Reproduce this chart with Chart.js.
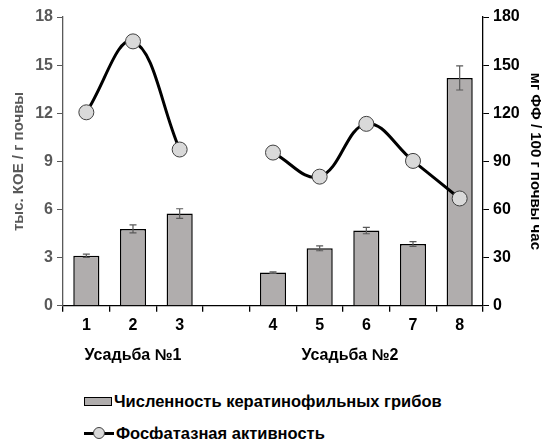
<!DOCTYPE html>
<html>
<head>
<meta charset="utf-8">
<script src="https://cdn.jsdelivr.net/npm/chart.js@4/dist/chart.umd.min.js"></script>
<style>
  html, body { margin: 0; padding: 0; background: #fff; }
  body { width: 553px; height: 439px; position: relative; overflow: hidden;
         font-family: "Liberation Sans", Arial, sans-serif; }
  #wrap { position: absolute; left: 0; top: 0; width: 553px; height: 375px; }
  .legend { position: absolute; left: 84px; font-weight: bold; font-size: 16.5px; color: #000; }
  .legend div { height: 32px; line-height: 32px; display: flex; align-items: center; }
  .box { display: inline-block; width: 26px; height: 7px; background: #b0adad;
         border: 1.5px solid #000; margin-right: 2px; }
  .ln { display: inline-block; width: 30px; height: 14px; position: relative; margin-right: 2px; }
  .ln:before { content: ""; position: absolute; left: 0; right: 0; top: 6px; height: 3px; background: #000; }
  .ln:after { content: ""; position: absolute; left: 9px; top: 1px; width: 10px; height: 10px;
              border-radius: 50%; background: #d9d9d9; border: 1px solid #404040; }
</style>
</head>
<body>
<div id="wrap"><canvas id="chart"></canvas></div>
<div class="legend" style="top:385px">
  <div><span class="box"></span>Численность кератинофильных грибов</div>
  <div><span class="ln"></span>Фосфатазная активность</div>
</div>
<script>
// categories (empty slot separates the two estates)
var categories = ['1', '2', '3', '', '4', '5', '6', '7', '8'];
// thousand CFU / g soil
var fungi = [3.12, 4.79, 5.75, null, 2.07, 3.58, 4.69, 3.85, 14.2];
var fungiErr = [0.1, 0.25, 0.3, null, 0.05, 0.15, 0.2, 0.15, 0.75];
// mg PP / 100 g soil per hour
var phosphatase = [120.6, 164.8, 97.4, null, 95.5, 80.5, 113.4, 90.3, 66.9];
var groupLabels = ['Усадьба №1', 'Усадьба №2'];
var groupCenters = [1, 5.65];

var errorBars = {
    id: 'errorBars',
    afterDatasetsDraw: function (chart) {
        var ctx = chart.ctx;
        var meta = chart.getDatasetMeta(1);
        var y = chart.scales.y;
        ctx.save();
        ctx.strokeStyle = '#595959';
        ctx.lineWidth = 1.2;
        meta.data.forEach(function (bar, i) {
            if (fungi[i] == null) return;
            var top = y.getPixelForValue(fungi[i] + fungiErr[i]);
            var bot = y.getPixelForValue(fungi[i] - fungiErr[i]);
            ctx.beginPath();
            ctx.moveTo(bar.x, top); ctx.lineTo(bar.x, bot);
            ctx.moveTo(bar.x - 3.5, top); ctx.lineTo(bar.x + 3.5, top);
            ctx.moveTo(bar.x - 3.5, bot); ctx.lineTo(bar.x + 3.5, bot);
            ctx.stroke();
        });
        ctx.restore();
    }
};

var groupText = {
    id: 'groupText',
    afterDraw: function (chart) {
        var ctx = chart.ctx;
        var x = chart.scales.x;
        ctx.save();
        ctx.font = 'bold 16px "Liberation Sans", Arial, sans-serif';
        ctx.fillStyle = '#000';
        ctx.textAlign = 'center';
        ctx.textBaseline = 'middle';
        groupLabels.forEach(function (t, i) {
            var a = Math.floor(groupCenters[i]), f = groupCenters[i] - a;
            var px = x.getPixelForValue(a) * (1 - f) + (f ? x.getPixelForValue(a + 1) * f : 0);
            ctx.fillText(t, px, x.bottom + 17);
        });
        ctx.restore();
    }
};

var tickFont = { family: '"Liberation Sans", Arial, sans-serif', size: 16, weight: 'bold' };
var titleFont = { family: '"Liberation Sans", Arial, sans-serif', size: 15, weight: 'bold' };

new Chart(document.getElementById('chart'), {
    type: 'bar',
    data: {
        labels: categories,
        datasets: [{
            type: 'line',
            label: 'Фосфатазная активность',
            data: phosphatase,
            yAxisID: 'y2',
            borderColor: '#000',
            borderWidth: 3,
            tension: 0.4,
            spanGaps: false,
            pointRadius: 7.5,
            pointBackgroundColor: '#d9d9d9',
            pointBorderColor: '#404040',
            pointBorderWidth: 1,
            order: 0
        }, {
            label: 'Численность кератинофильных грибов',
            data: fungi,
            yAxisID: 'y',
            backgroundColor: '#b0adad',
            borderColor: '#000',
            borderWidth: 1.5,
            categoryPercentage: 1,
            barPercentage: 0.56,
            order: 1
        }]
    },
    options: {
        responsive: true,
        maintainAspectRatio: false,
        animation: false,
        layout: { padding: { top: 17, bottom: 36, left: 10, right: 9 } },
        plugins: { legend: { display: false }, tooltip: { enabled: false } },
        scales: {
            x: {
                offset: true,
                grid: { offset: true, drawOnChartArea: false, tickLength: 6, color: '#000', lineWidth: 1.3 },
                border: { color: '#000', width: 1.3 },
                ticks: { color: '#000', font: tickFont, padding: 4 }
            },
            y: {
                position: 'left',
                min: 0, max: 18,
                afterFit: function (s) { s.width = 53; },
                ticks: { stepSize: 3, color: '#595959', font: tickFont, padding: 4 },
                grid: { drawOnChartArea: false, tickLength: 6, color: '#595959' },
                border: { color: '#595959', width: 1.3 },
                title: { display: true, text: 'тыс. КОЕ / г почвы', color: '#595959', font: titleFont, padding: 0 }
            },
            y2: {
                position: 'right',
                min: 0, max: 180,
                afterFit: function (s) { s.width = 61; },
                ticks: { stepSize: 30, color: '#000', font: tickFont, padding: 4 },
                grid: { drawOnChartArea: false, tickLength: 6, color: '#000' },
                border: { color: '#000', width: 1.3 },
                title: { display: true, text: 'мг ФФ / 100 г почвы час', color: '#000', font: titleFont, padding: 0 }
            }
        }
    },
    plugins: [errorBars, groupText]
});
</script>
</body>
</html>
